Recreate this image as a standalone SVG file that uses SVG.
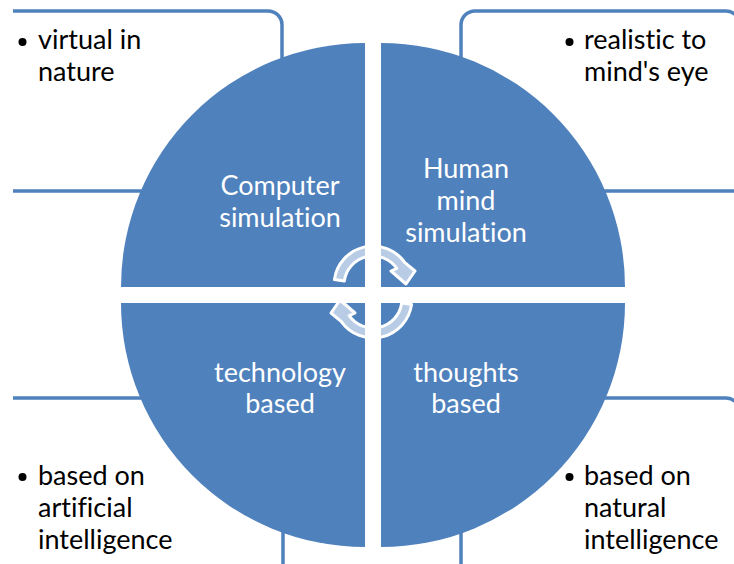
<svg xmlns="http://www.w3.org/2000/svg" width="734" height="564" viewBox="0 0 734 564">
<style>
.box{fill:none;stroke:#4F81BD;stroke-width:3.5}
.quad{fill:#4F81BD}
.bt{font-family:Lato,"Liberation Sans",sans-serif;font-size:27px;fill:#000;font-variant-ligatures:none}
.qt{font-family:Lato,"Liberation Sans",sans-serif;font-size:27px;fill:#fff;text-anchor:middle;font-variant-ligatures:none}
.arr{fill:#fff;fill-opacity:0.6;stroke:#fff;stroke-width:3;stroke-linejoin:round}
</style>
<rect width="734" height="564" fill="#fff"/>
<g id="box-tl">
<path class="box" d="M13,11 H268 A14,14 0 0 1 282,25 V191 H13"/>
<circle cx="22.5" cy="42" r="4"/>
<text class="bt" x="38" y="49">virtual in</text>
<text class="bt" x="38" y="81">nature</text>
</g>
<g id="box-tr">
<path class="box" d="M461,191 V25 A14,14 0 0 1 475,11 H726 A14,14 0 0 1 740,25 M461,191 H740"/>
<circle cx="569.5" cy="42" r="4"/>
<text class="bt" x="584" y="49">realistic to</text>
<text class="bt" x="584" y="81">mind's eye</text>
</g>
<g id="box-bl">
<path class="box" d="M13,398 H283 V580"/>
<circle cx="22.5" cy="477" r="4"/>
<text class="bt" x="38" y="485">based on</text>
<text class="bt" x="38" y="517">artificial</text>
<text class="bt" x="38" y="549">intelligence</text>
</g>
<g id="box-br">
<path class="box" d="M461,580 V398 H726 A14,14 0 0 1 740,412"/>
<circle cx="569.5" cy="477" r="4"/>
<text class="bt" x="584" y="485">based on</text>
<text class="bt" x="584" y="517">natural</text>
<text class="bt" x="584" y="549">intelligence</text>
</g>
<g id="q-tl">
<path class="quad" d="M365,287 V43 A244,244 0 0 0 121,287 Z"/>
<text class="qt" x="280" y="195">Computer</text>
<text class="qt" x="280" y="227">simulation</text>
</g>
<g id="q-tr">
<path class="quad" d="M381,287 H625 A244,244 0 0 0 381,43 Z"/>
<text class="qt" x="466" y="178">Human</text>
<text class="qt" x="466" y="210">mind</text>
<text class="qt" x="466" y="242">simulation</text>
</g>
<g id="q-bl">
<path class="quad" d="M365,303 H121 A244,244 0 0 0 365,547 Z"/>
<text class="qt" x="280" y="382">technology</text>
<text class="qt" x="280" y="413">based</text>
</g>
<g id="q-br">
<path class="quad" d="M381,303 V547 A244,244 0 0 0 625,303 Z"/>
<text class="qt" x="466" y="382">thoughts</text>
<text class="qt" x="466" y="413">based</text>
</g>
<g id="connectors">
<path id="arrow-top" class="arr" d="M334.4,279.6 A39,39 0 0 1 404.9,262.6 L415,271 L406,284 L391,271 L396.8,268.4 A29,29 0 0 0 344.3,281 Z"/>
<path id="arrow-bottom" class="arr" transform="rotate(180 373 292)" d="M334.4,279.6 A39,39 0 0 1 404.9,262.6 L415,271 L406,284 L391,271 L396.8,268.4 A29,29 0 0 0 344.3,281 Z"/>
</g>
</svg>
